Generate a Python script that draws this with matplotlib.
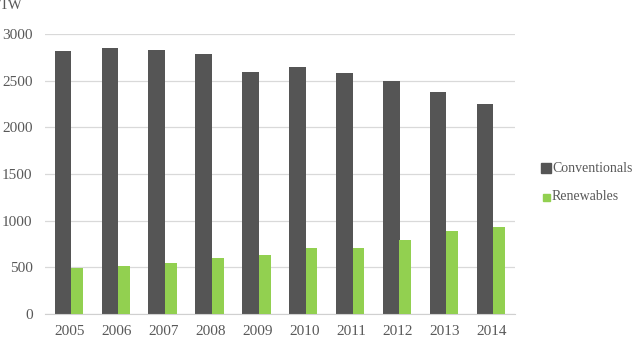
import numpy as np
import matplotlib.pyplot as plt
from matplotlib.patches import Rectangle

years = ["2005", "2006", "2007", "2008", "2009", "2010", "2011", "2012", "2013", "2014"]
conventionals = [2820, 2845, 2830, 2790, 2590, 2650, 2580, 2495, 2375, 2245]
renewables = [495, 518, 550, 595, 630, 712, 705, 797, 889, 932]

dark = "#555555"
green = "#92d050"
grey_txt = "#595959"

plt.rcParams["font.family"] = ["Liberation Serif", "DejaVu Serif"]

W, H = 633, 343
fig = plt.figure(figsize=(W / 100, H / 100), dpi=100)
ax = fig.add_axes([45 / W, 29 / H, 470 / W, 280 / H])

x = np.arange(len(years))
ax.bar(x - 0.143, conventionals, width=0.357, color=dark, zorder=2)
ax.bar(x + 0.16, renewables, width=0.25, color=green, zorder=3)

ax.set_xlim(-0.53, 9.5)
ax.set_ylim(0, 3000)
ax.set_yticks(range(0, 3001, 500))
ax.set_xticks(x)
ax.set_xticklabels(years)
ax.grid(axis="y", color="#d9d9d9", linewidth=0.9, zorder=0)
for s in ["top", "right", "left"]:
    ax.spines[s].set_visible(False)
ax.spines["bottom"].set_color("#d0d0d0")
ax.tick_params(axis="both", length=0, colors=grey_txt, labelsize=11)
ax.tick_params(axis="y", pad=9)
ax.tick_params(axis="x", pad=8)

fig.text(0.0, 0.985, "TW", ha="left", va="center", color=grey_txt, fontsize=10.5)

# legend drawn by hand: the two swatches have different sizes
legend_items = [("Conventionals", dark, 10, 168), ("Renewables", green, 7, 197)]
for label, col, size, yc in legend_items:
    x0 = 541 if size == 10 else 543
    fig.patches.append(Rectangle((x0 / W, 1 - (yc + size / 2) / H), size / W, size / H,
                                 transform=fig.transFigure, color=col))
    fig.text(552 / W, 1 - yc / H, label, ha="left", va="center", color=grey_txt, fontsize=10)

fig.savefig("out.png", dpi=100)
